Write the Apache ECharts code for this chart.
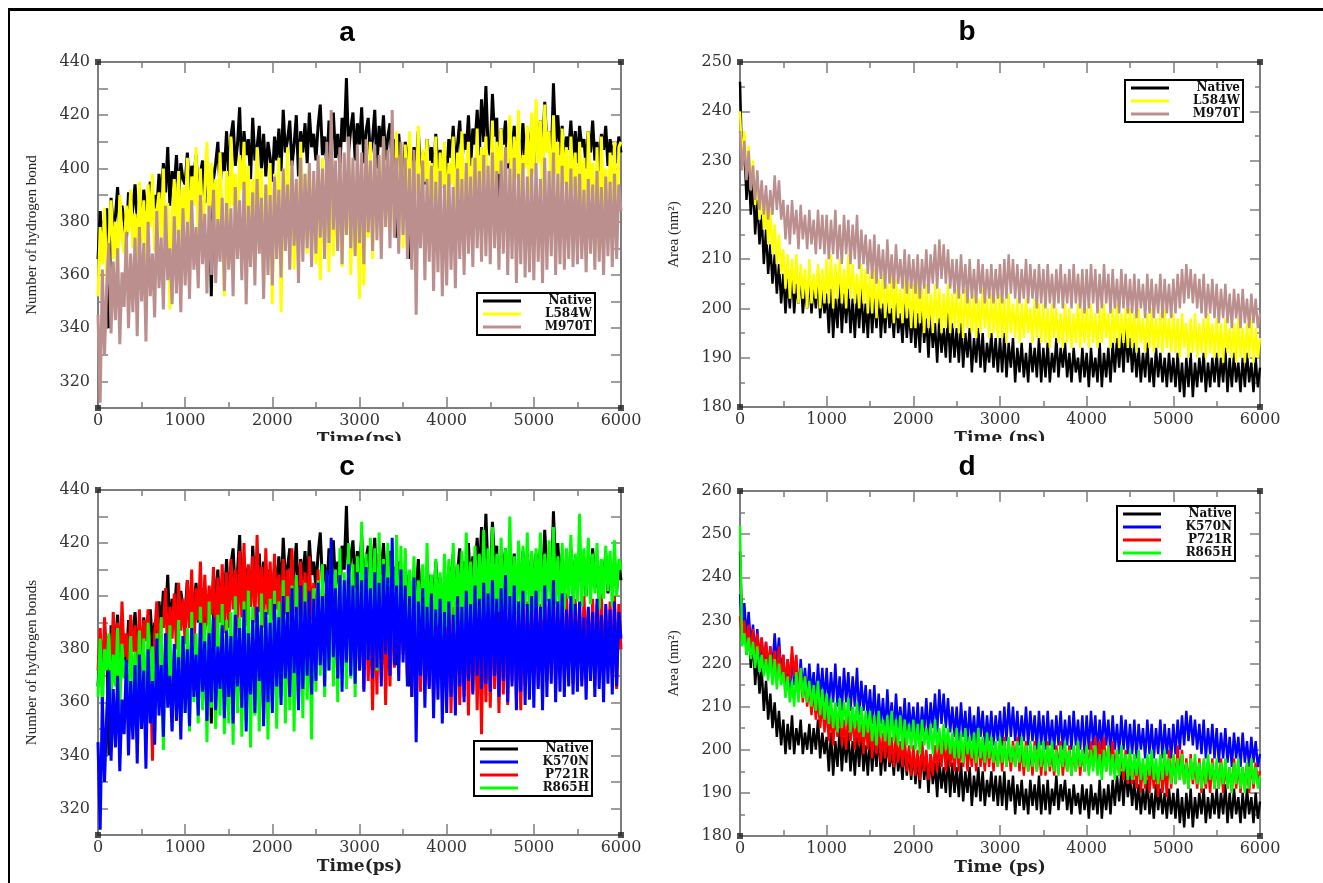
<!DOCTYPE html>
<html>
<head>
<meta charset="utf-8">
<script src="https://cdn.jsdelivr.net/npm/echarts@6/dist/echarts.min.js"></script>
<style>
  html, body { margin: 0; background: #fff; }
  #chart { width: 1323px; height: 883px; }
</style>
</head>
<body>
<div id="chart"></div>
<script>
// sampling grid shared by every trace (ps), one row per 500 ps
const timePs = [
  0, 25, 50, 75, 100, 125, 150, 175, 200, 225, 250, 275, 300, 325, 350, 375, 400, 425, 450, 475,
  500, 525, 550, 575, 600, 625, 650, 675, 700, 725, 750, 775, 800, 825, 850, 875, 900, 925, 950, 975,
  1000, 1025, 1050, 1075, 1100, 1125, 1150, 1175, 1200, 1225, 1250, 1275, 1300, 1325, 1350, 1375, 1400, 1425, 1450, 1475,
  1500, 1525, 1550, 1575, 1600, 1625, 1650, 1675, 1700, 1725, 1750, 1775, 1800, 1825, 1850, 1875, 1900, 1925, 1950, 1975,
  2000, 2025, 2050, 2075, 2100, 2125, 2150, 2175, 2200, 2225, 2250, 2275, 2300, 2325, 2350, 2375, 2400, 2425, 2450, 2475,
  2500, 2525, 2550, 2575, 2600, 2625, 2650, 2675, 2700, 2725, 2750, 2775, 2800, 2825, 2850, 2875, 2900, 2925, 2950, 2975,
  3000, 3025, 3050, 3075, 3100, 3125, 3150, 3175, 3200, 3225, 3250, 3275, 3300, 3325, 3350, 3375, 3400, 3425, 3450, 3475,
  3500, 3525, 3550, 3575, 3600, 3625, 3650, 3675, 3700, 3725, 3750, 3775, 3800, 3825, 3850, 3875, 3900, 3925, 3950, 3975,
  4000, 4025, 4050, 4075, 4100, 4125, 4150, 4175, 4200, 4225, 4250, 4275, 4300, 4325, 4350, 4375, 4400, 4425, 4450, 4475,
  4500, 4525, 4550, 4575, 4600, 4625, 4650, 4675, 4700, 4725, 4750, 4775, 4800, 4825, 4850, 4875, 4900, 4925, 4950, 4975,
  5000, 5025, 5050, 5075, 5100, 5125, 5150, 5175, 5200, 5225, 5250, 5275, 5300, 5325, 5350, 5375, 5400, 5425, 5450, 5475,
  5500, 5525, 5550, 5575, 5600, 5625, 5650, 5675, 5700, 5725, 5750, 5775, 5800, 5825, 5850, 5875, 5900, 5925, 5950, 5975,
  6000
]

// number of hydrogen bonds (panels a and c)
const hbNative = [
  366, 384, 371, 378, 385, 340, 389, 377, 382, 393, 376, 386, 380, 372, 391, 379, 385, 394, 381, 388,
  378, 392, 384, 387, 395, 381, 390, 385, 398, 388, 402, 391, 408, 386, 399, 393, 405, 389, 402, 396,
  394, 406, 389, 401, 397, 405, 390, 398, 403, 387, 400, 394, 352, 396, 402, 410, 392, 406, 399, 414,
  397, 412, 418, 401, 409, 423, 398, 414, 405, 411, 396, 419, 403, 408, 416, 400, 413, 397, 410, 404,
  395, 412, 403, 415, 399, 422, 406, 411, 418, 401, 409, 420, 397, 414, 406, 417, 402, 421, 408, 413,
  403, 416, 424, 405, 412, 401, 418, 409, 421, 404, 413, 400, 419, 410, 434, 406, 415, 421, 403, 417,
  409, 423, 402, 414, 419, 405, 411, 422, 400, 416, 408, 420, 403, 412, 417, 399, 411, 374, 413, 402,
  397, 410, 404, 366, 395, 408, 401, 414, 398, 406, 394, 411, 403, 408, 396, 413, 400, 407, 393, 405,
  398, 411, 404, 416, 400, 409, 418, 402, 413, 407, 420, 401, 415, 409, 422, 405, 426, 410, 431, 408,
  405, 428, 412, 419, 370, 415, 409, 418, 400, 412, 406, 416, 399, 411, 404, 417, 402, 413, 408, 415,
  401, 416, 408, 418, 404, 425, 409, 414, 402, 432, 410, 420, 405, 416, 400, 412, 407, 418, 403, 414,
  402, 416, 408, 411, 400, 414, 406, 418, 403, 410, 399, 413, 407, 416, 401, 411, 405, 409, 402, 412,
  406
]
const hbL584W = [
  352, 378, 364, 385, 358, 372, 388, 366, 380, 361, 390, 374, 368, 386, 376, 392, 370, 383, 367, 395,
  372, 388, 365, 394, 378, 398, 369, 384, 391, 374, 400, 366, 387, 347, 382, 396, 375, 399, 370, 393,
  380, 404, 372, 397, 386, 408, 374, 400, 369, 392, 410, 378, 402, 385, 396, 371, 406, 381, 352, 399,
  374, 412, 386, 398, 368, 405, 392, 410, 377, 401, 363, 396, 384, 408, 371, 400, 356, 394, 380, 402,
  349, 398, 372, 404, 346, 392, 380, 408, 366, 400, 362, 394, 371, 410, 376, 398, 368, 402, 373, 396,
  364, 392, 358, 404, 372, 398, 361, 408, 367, 394, 370, 402, 363, 396, 375, 405, 360, 399, 368, 393,
  351, 402, 356, 398, 374, 410, 366, 404, 380, 396, 371, 412, 378, 400, 384, 408, 376, 414, 381, 405,
  370, 409, 385, 414, 378, 403, 390, 416, 374, 407, 395, 411, 382, 402, 388, 412, 376, 406, 393, 410,
  380, 402, 394, 412, 378, 406, 390, 414, 385, 399, 410, 376, 404, 392, 415, 383, 408, 396, 412, 387,
  392, 418, 381, 410, 398, 415, 386, 407, 402, 420, 388, 412, 396, 422, 384, 405, 400, 416, 390, 421,
  398, 426, 402, 418, 390, 424, 406, 414, 385, 420, 398, 410, 380, 415, 394, 408, 378, 412, 392, 406,
  372, 410, 386, 404, 366, 414, 390, 402, 376, 408, 368, 412, 385, 400, 374, 406, 380, 410, 372, 408,
  410
]
const hbM970T = [
  345, 312, 362, 330, 356, 372, 338, 365, 343, 370, 334, 361, 348, 376, 340, 368, 346, 374, 337, 378,
  350, 372, 335, 380, 352, 368, 344, 384, 355, 374, 347, 386, 358, 370, 349, 382, 353, 377, 346, 385,
  356, 380, 351, 388, 362, 378, 355, 390, 364, 383, 353, 386, 360, 392, 357, 381, 365, 389, 354, 387,
  362, 385, 352, 393, 366, 388, 358, 395, 349, 386, 363, 391, 356, 396, 368, 389, 351, 394, 360, 390,
  356, 397, 366, 392, 359, 400, 369, 394, 362, 403, 371, 396, 357, 404, 365, 398, 370, 402, 363, 399,
  368, 405, 374, 400, 366, 410, 372, 422, 377, 403, 369, 408, 364, 406, 375, 412, 370, 404, 367, 409,
  372, 406, 364, 411, 376, 403, 369, 409, 373, 405, 366, 412, 378, 407, 370, 422, 374, 404, 368, 410,
  375, 404, 366, 400, 362, 407, 345, 398, 370, 403, 358, 396, 365, 401, 354, 395, 361, 399, 352, 394,
  356, 398, 362, 393, 355, 400, 366, 396, 360, 402, 368, 397, 363, 404, 370, 399, 365, 405, 367, 401,
  364, 406, 370, 399, 362, 403, 368, 408, 360, 400, 366, 404, 357, 398, 364, 402, 359, 397, 361, 400,
  358, 402, 365, 396, 357, 404, 362, 399, 367, 406, 360, 398, 364, 401, 362, 395, 366, 400, 363, 397,
  364, 398, 366, 392, 361, 396, 368, 394, 362, 399, 365, 393, 360, 397, 367, 395, 363, 398, 366, 394,
  384
]
// the K570N trace in c follows the same curve as M970T in a
const hbK570N = hbM970T
const hbP721R = [
  372, 388, 366, 392, 378, 385, 370, 394, 375, 390, 368, 398, 377, 386, 371, 393, 379, 389, 369, 395,
  376, 391, 383, 395, 373, 338, 386, 398, 378, 392, 388, 403, 375, 396, 384, 401, 380, 405, 387, 399,
  382, 406, 388, 410, 379, 403, 391, 413, 384, 408, 389, 404, 393, 411, 381, 407, 390, 412, 386, 409,
  388, 414, 395, 410, 386, 417, 392, 420, 389, 412, 396, 415, 390, 423, 394, 411, 388, 418, 393, 413,
  391, 416, 395, 408, 388, 414, 393, 410, 390, 418, 394, 406, 389, 413, 392, 409, 386, 415, 391, 405,
  384, 410, 379, 402, 387, 408, 376, 412, 383, 400, 378, 406, 385, 403, 374, 409, 380, 401, 377, 405,
  372, 402, 365, 398, 368, 396, 357, 400, 363, 404, 370, 398, 359, 395, 366, 402, 373, 397, 376, 400,
  378, 398, 368, 396, 362, 401, 370, 394, 364, 399, 372, 395, 366, 400, 360, 397, 369, 402, 362, 396,
  364, 398, 356, 396, 368, 400, 359, 395, 362, 398, 355, 397, 364, 400, 357, 394, 348, 399, 360, 396,
  358, 398, 365, 396, 356, 400, 363, 397, 359, 395, 368, 399, 361, 396, 357, 400, 366, 398, 370, 395,
  372, 400, 366, 397, 374, 399, 368, 396, 371, 400, 365, 398, 373, 395, 369, 401, 375, 397, 367, 399,
  374, 396, 368, 400, 378, 395, 371, 399, 366, 397, 373, 401, 369, 396, 375, 398, 370, 400, 365, 397,
  380
]
const hbR865H = [
  362, 384, 358, 380, 372, 386, 361, 378, 366, 388, 357, 382, 369, 376, 360, 385, 364, 379, 356, 387,
  360, 384, 352, 390, 366, 381, 348, 386, 358, 392, 342, 383, 362, 389, 350, 380, 357, 391, 354, 385,
  356, 388, 349, 394, 360, 386, 352, 396, 357, 390, 345, 398, 358, 387, 350, 393, 355, 397, 348, 391,
  352, 394, 344, 400, 356, 392, 347, 398, 353, 402, 343, 396, 355, 393, 349, 401, 354, 395, 346, 399,
  358, 402, 350, 398, 362, 406, 352, 400, 357, 404, 349, 408, 360, 399, 354, 405, 361, 398, 346, 403,
  364, 406, 370, 412, 362, 408, 372, 416, 366, 410, 360, 418, 371, 409, 365, 420, 369, 412, 362, 415,
  374, 428, 380, 416, 376, 422, 383, 418, 372, 424, 378, 414, 385, 420, 377, 417, 381, 423, 375, 419,
  386, 418, 382, 410, 388, 415, 384, 406, 390, 412, 383, 420, 387, 408, 385, 414, 389, 409, 384, 416,
  388, 414, 392, 420, 386, 412, 390, 417, 385, 424, 391, 413, 387, 419, 393, 416, 389, 425, 386, 418,
  392, 426, 388, 416, 394, 422, 390, 418, 395, 430, 389, 415, 393, 421, 391, 419, 396, 424, 390, 417,
  394, 418, 396, 424, 391, 416, 398, 421, 393, 426, 397, 415, 392, 420, 395, 418, 399, 423, 394, 416,
  398, 431, 396, 418, 400, 422, 397, 416, 401, 420, 395, 414, 399, 419, 402, 417, 396, 421, 400, 414,
  410
]

// area, nm^2 (panels b and d)
const areaNative = [
  246, 229, 233, 222, 228, 219, 226, 215, 222, 213, 219, 209, 216, 207, 213, 205, 211, 203, 209, 201,
  207, 199, 206, 200, 208, 199, 205, 201, 207, 199, 204, 200, 206, 199, 205, 200, 207, 198, 204, 199,
  203, 195, 204, 194, 202, 196, 205, 195, 203, 197, 204, 195, 202, 194, 203, 196, 204, 195, 201, 194,
  203, 195, 202, 196, 204, 194, 201, 195, 203, 196, 200, 194, 202, 195, 199, 193, 201, 194, 200, 193,
  200, 192, 199, 191, 201, 193, 198, 190, 199, 192, 197, 189, 198, 191, 196, 190, 199, 189, 197, 190,
  196, 189, 197, 188, 195, 190, 196, 187, 194, 189, 196, 188, 195, 187, 193, 189, 195, 188, 194, 187,
  194, 187, 195, 186, 193, 188, 194, 185, 192, 187, 193, 186, 191, 185, 193, 187, 192, 186, 194, 185,
  192, 186, 193, 185, 191, 187, 194, 186, 192, 188, 193, 186, 191, 185, 192, 187, 190, 185, 192, 186,
  191, 184, 192, 186, 190, 185, 193, 184, 191, 186, 192, 185, 193, 187, 194, 188, 195, 187, 196, 189,
  194, 187, 193, 186, 192, 185, 191, 186, 193, 185, 190, 184, 192, 186, 191, 185, 190, 184, 191, 185,
  190, 184, 191, 183, 189, 182, 190, 184, 191, 182, 189, 184, 190, 185, 191, 183, 189, 184, 190, 185,
  191, 184, 190, 185, 192, 183, 190, 184, 191, 185, 189, 183, 190, 184, 191, 185, 189, 183, 190, 184,
  188
]
const areaL584W = [
  240, 230, 236, 227, 233, 224, 230, 221, 227, 218, 225, 216, 222, 213, 220, 211, 217, 209, 215, 207,
  212, 204, 211, 202, 210, 203, 211, 201, 209, 202, 208, 200, 210, 201, 207, 202, 209, 200, 208, 201,
  210, 201, 211, 200, 209, 202, 210, 201, 208, 200, 211, 202, 209, 201, 207, 200, 209, 201, 208, 199,
  207, 199, 208, 198, 206, 200, 207, 198, 205, 199, 207, 197, 206, 198, 204, 197, 206, 198, 205, 196,
  205, 196, 206, 197, 204, 195, 205, 196, 203, 195, 205, 197, 204, 195, 203, 196, 205, 195, 203, 196,
  204, 195, 203, 194, 204, 196, 202, 195, 203, 194, 202, 195, 204, 196, 202, 194, 203, 195, 202, 194,
  203, 194, 202, 193, 203, 195, 201, 194, 202, 193, 201, 194, 202, 195, 200, 193, 202, 194, 201, 193,
  201, 193, 200, 192, 201, 194, 200, 193, 199, 192, 201, 193, 200, 192, 199, 193, 201, 192, 200, 193,
  200, 192, 201, 193, 199, 192, 200, 193, 201, 194, 199, 192, 200, 193, 201, 192, 199, 193, 200, 192,
  200, 192, 199, 191, 200, 193, 198, 191, 199, 192, 200, 191, 198, 192, 199, 191, 200, 192, 198, 191,
  199, 191, 198, 190, 199, 192, 197, 190, 198, 191, 199, 190, 197, 191, 198, 190, 199, 191, 197, 190,
  198, 190, 197, 189, 198, 191, 196, 190, 197, 189, 198, 190, 196, 189, 197, 190, 198, 189, 196, 190,
  194
]
const areaM970T = [
  236, 228, 234, 226, 232, 224, 229, 222, 228, 220, 226, 219, 225, 218, 224, 219, 227, 220, 226, 218,
  222, 214, 221, 213, 222, 215, 220, 212, 221, 214, 219, 212, 220, 213, 218, 211, 220, 212, 219, 211,
  219, 210, 218, 211, 220, 210, 217, 209, 219, 211, 218, 209, 217, 210, 219, 208, 216, 209, 215, 207,
  214, 206, 215, 205, 213, 206, 212, 204, 214, 205, 211, 204, 213, 205, 210, 204, 212, 203, 211, 204,
  210, 203, 211, 202, 210, 204, 212, 203, 211, 205, 213, 204, 214, 206, 213, 205, 212, 204, 210, 203,
  210, 202, 211, 203, 209, 201, 210, 202, 208, 201, 210, 203, 209, 201, 208, 202, 209, 201, 208, 202,
  209, 201, 210, 202, 211, 203, 210, 202, 209, 201, 208, 202, 210, 201, 209, 202, 208, 200, 209, 201,
  208, 200, 209, 201, 207, 200, 208, 201, 209, 200, 207, 201, 208, 200, 209, 201, 207, 200, 208, 199,
  208, 200, 209, 201, 208, 199, 207, 200, 209, 201, 207, 199, 208, 200, 206, 199, 208, 200, 207, 199,
  206, 199, 207, 198, 206, 200, 205, 198, 207, 199, 206, 198, 205, 199, 207, 198, 206, 199, 205, 198,
  206, 199, 207, 200, 208, 201, 209, 202, 208, 201, 207, 200, 206, 199, 207, 198, 205, 199, 206, 198,
  205, 197, 204, 198, 205, 197, 203, 196, 204, 198, 203, 196, 204, 197, 202, 196, 203, 197, 202, 196,
  199
]
// the K570N trace in d follows the same curve as M970T in b
const areaK570N = areaM970T
const areaP721R = [
  231, 225, 230, 224, 229, 222, 228, 221, 227, 222, 226, 220, 225, 219, 224, 218, 223, 217, 224, 216,
  222, 215, 221, 216, 224, 217, 222, 214, 218, 211, 217, 210, 215, 208, 214, 207, 212, 205, 211, 204,
  210, 202, 209, 201, 208, 203, 210, 201, 207, 200, 209, 202, 208, 200, 207, 201, 206, 199, 207, 200,
  206, 198, 205, 199, 206, 197, 204, 198, 205, 197, 203, 196, 204, 197, 202, 196, 203, 195, 201, 194,
  201, 194, 200, 193, 202, 195, 200, 193, 199, 194, 201, 195, 202, 196, 203, 195, 202, 196, 201, 195,
  203, 195, 202, 196, 203, 195, 201, 196, 202, 195, 203, 196, 201, 195, 202, 196, 203, 195, 201, 196,
  202, 195, 203, 196, 201, 195, 202, 196, 203, 195, 201, 194, 202, 195, 200, 194, 202, 195, 201, 194,
  201, 194, 202, 195, 200, 194, 201, 195, 202, 194, 200, 195, 201, 194, 200, 195, 202, 194, 200, 195,
  201, 195, 202, 196, 203, 197, 202, 196, 203, 195, 201, 196, 202, 195, 200, 194, 199, 193, 200, 192,
  199, 192, 198, 191, 199, 190, 197, 191, 198, 190, 197, 191, 196, 189, 198, 190, 197, 189, 200, 191,
  199, 192, 201, 193, 200, 192, 198, 191, 199, 192, 197, 191, 198, 190, 197, 191, 196, 190, 198, 191,
  197, 191, 198, 190, 197, 191, 196, 190, 198, 191, 197, 190, 196, 191, 197, 190, 198, 191, 197, 192,
  195
]
const areaR865H = [
  252, 224, 227, 222, 226, 221, 225, 219, 224, 218, 222, 217, 221, 216, 222, 215, 221, 214, 220, 215,
  218, 212, 217, 211, 216, 210, 218, 211, 219, 212, 217, 211, 216, 210, 215, 209, 216, 208, 214, 207,
  213, 206, 212, 205, 211, 204, 212, 205, 211, 206, 212, 204, 210, 205, 211, 204, 210, 203, 209, 204,
  209, 202, 208, 201, 209, 203, 207, 202, 208, 201, 209, 202, 207, 201, 208, 200, 207, 201, 206, 200,
  207, 200, 206, 199, 207, 201, 205, 200, 206, 199, 207, 200, 205, 199, 206, 200, 205, 199, 204, 198,
  205, 198, 204, 197, 205, 199, 203, 198, 204, 197, 205, 198, 203, 197, 204, 198, 203, 197, 202, 196,
  203, 197, 202, 196, 203, 197, 201, 196, 202, 197, 203, 196, 201, 195, 202, 196, 201, 195, 202, 196,
  202, 195, 201, 196, 202, 195, 200, 194, 201, 196, 202, 195, 200, 194, 201, 195, 202, 196, 200, 195,
  201, 194, 200, 195, 201, 194, 199, 193, 200, 195, 201, 194, 199, 193, 200, 194, 201, 195, 199, 193,
  200, 193, 199, 194, 200, 193, 198, 192, 199, 194, 200, 193, 198, 192, 199, 193, 200, 194, 198, 192,
  199, 192, 198, 193, 199, 192, 197, 191, 198, 193, 199, 192, 197, 191, 198, 192, 199, 193, 197, 191,
  198, 191, 197, 192, 198, 191, 196, 190, 197, 192, 198, 191, 196, 190, 197, 191, 198, 192, 196, 191,
  194
]

const BLACK = '#000000', YELLOW = '#ffff00', BROWN = '#bc8f8f'
const BLUE = '#0000ff', RED = '#ff0000', GREEN = '#00ff00'
const GREY = '#7d7d7d'
const SERIF = 'DejaVu Serif'

let myChart = echarts.init(document.getElementById('chart'), null, { renderer: 'canvas' })

function tick(len) {
  return { show: true, inside: true, length: len, lineStyle: { color: GREY, width: 1.5 } }
}

function xAxes(gi, name) {
  const common = {
    type: 'value', gridIndex: gi, min: 0, max: 6000, interval: 1000,
    axisLine: { show: true, onZero: false, lineStyle: { color: GREY, width: 2 } },
    axisTick: tick(11),
    minorTick: { show: true, splitNumber: 2, length: 6, lineStyle: { color: GREY, width: 1.5 } },
    splitLine: { show: false }
  }
  return [
    Object.assign({}, common, {
      position: 'bottom', name, nameLocation: 'middle', nameGap: 23,
      nameTextStyle: { fontFamily: SERIF, fontSize: 17, fontWeight: 'bold', color: '#222' },
      axisLabel: { margin: 5, fontFamily: SERIF, fontSize: 16, color: '#333', formatter: v => String(v) }
    }),
    Object.assign({}, common, { position: 'top', axisLabel: { show: false } })
  ]
}

function yAxes(gi, name, min, max, every20) {
  const common = {
    type: 'value', gridIndex: gi, min, max, interval: 10,
    axisLine: { show: true, onZero: false, lineStyle: { color: GREY, width: 2 } },
    axisTick: tick(10),
    minorTick: every20 ? { show: false } :
      { show: true, splitNumber: 2, length: 5, lineStyle: { color: GREY, width: 1.5 } },
    splitLine: { show: false }
  }
  return [
    Object.assign({}, common, {
      position: 'left', name, nameLocation: 'middle', nameGap: 58,
      nameTextStyle: { fontFamily: 'Liberation Serif', fontSize: 15, color: '#222' },
      axisLabel: {
        margin: 8, fontFamily: SERIF, fontSize: 16, color: '#333',
        formatter: v => (every20 && v % 20 !== 0) ? '' : String(v)
      }
    }),
    Object.assign({}, common, { position: 'right', axisLabel: { show: false } })
  ]
}

function trace(gi, name, color, values, width) {
  return {
    type: 'line', name, xAxisIndex: 2 * gi, yAxisIndex: 2 * gi,
    data: timePs.map((t, i) => [t, values[i]]),
    symbol: 'none', silent: true,
    lineStyle: { color, width }, itemStyle: { color }
  }
}

// little black squares xmgrace puts on the frame corners
function corners(gi, ymin, ymax) {
  return {
    type: 'scatter', xAxisIndex: 2 * gi, yAxisIndex: 2 * gi, silent: true, clip: false, z: 5,
    data: [[0, ymin], [0, ymax], [6000, ymin], [6000, ymax]],
    symbol: 'rect', symbolSize: 6, itemStyle: { color: '#222' }
  }
}

function legendBox(left, top, names) {
  const txt = { fontFamily: SERIF, fontSize: 12, fontWeight: 'bold', lineHeight: 11, color: '#111' }
  return {
    left, top, orient: 'vertical', data: names, selectedMode: false,
    icon: 'rect', itemWidth: 38, itemHeight: 3, itemGap: 1,
    padding: [2, 3, 2, 6], borderColor: '#000', borderWidth: 2, backgroundColor: '#fff',
    formatter: name => '{r|' + name + '}',
    textStyle: Object.assign({}, txt, { rich: { r: Object.assign({ width: 66, align: 'right' }, txt) } })
  }
}

function panelTitle(x, y, text) {
  return {
    type: 'text', x, y, z: 50,
    style: { text, fill: '#000', font: 'bold 28px "Liberation Sans"', align: 'center', verticalAlign: 'middle' }
  }
}

// thick strokes so the 25 ps samples read as the dense bands of the figure
const HB_W = 3, AREA_W = 2.4

let option = {
  animation: false,
  backgroundColor: '#fff',
  grid: [
    { left: 98, top: 62, width: 523, height: 346 },
    { left: 740, top: 62, width: 520, height: 345 },
    { left: 98, top: 490, width: 523, height: 345 },
    { left: 740, top: 491, width: 520, height: 345 }
  ],
  xAxis: [
    ...xAxes(0, 'Time(ps)'),
    ...xAxes(1, 'Time (ps)'),
    ...xAxes(2, 'Time(ps)'),
    ...xAxes(3, 'Time (ps)')
  ],
  yAxis: [
    ...yAxes(0, 'Number of hydrogen bond', 310, 440, true),
    ...yAxes(1, 'Area (nm²)', 180, 250, false),
    ...yAxes(2, 'Number of hydrogen bonds', 310, 440, true),
    ...yAxes(3, 'Area (nm²)', 180, 260, false)
  ],
  legend: [
    legendBox(477, 293, ['Native', 'L584W', 'M970T']),
    legendBox(1125, 80, ['Native', 'L584W', 'M970T']),
    legendBox(474, 741, ['Native', 'K570N', 'P721R', 'R865H']),
    legendBox(1117, 506, ['Native', 'K570N', 'P721R', 'R865H'])
  ],
  series: [
    trace(0, 'Native', BLACK, hbNative, HB_W),
    trace(0, 'L584W', YELLOW, hbL584W, HB_W),
    trace(0, 'M970T', BROWN, hbM970T, HB_W),
    corners(0, 310, 440),

    trace(1, 'Native', BLACK, areaNative, AREA_W),
    trace(1, 'L584W', YELLOW, areaL584W, AREA_W),
    trace(1, 'M970T', BROWN, areaM970T, AREA_W),
    corners(1, 180, 250),

    trace(2, 'Native', BLACK, hbNative, HB_W),
    trace(2, 'P721R', RED, hbP721R, HB_W),
    trace(2, 'R865H', GREEN, hbR865H, HB_W),
    trace(2, 'K570N', BLUE, hbK570N, HB_W),
    corners(2, 310, 440),

    trace(3, 'Native', BLACK, areaNative, AREA_W),
    trace(3, 'K570N', BLUE, areaK570N, AREA_W),
    trace(3, 'P721R', RED, areaP721R, AREA_W),
    trace(3, 'R865H', GREEN, areaR865H, AREA_W),
    corners(3, 180, 260)
  ],
  graphic: [
    // outer frame (top and left edges)
    { type: 'rect', shape: { x: 8, y: 8, width: 1315, height: 3 }, style: { fill: '#000' }, z: 60 },
    { type: 'rect', shape: { x: 8, y: 8, width: 2, height: 875 }, style: { fill: '#000' }, z: 60 },
    // the lower half of the top row x-axis names is cut off in the figure
    { type: 'rect', shape: { x: 20, y: 441, width: 1300, height: 12 }, style: { fill: '#fff' }, z: 40 },
    panelTitle(347, 33, 'a'),
    panelTitle(967, 32, 'b'),
    panelTitle(347, 467, 'c'),
    panelTitle(967, 467, 'd')
  ]
}
myChart.setOption(option)
</script>
</body>
</html>
